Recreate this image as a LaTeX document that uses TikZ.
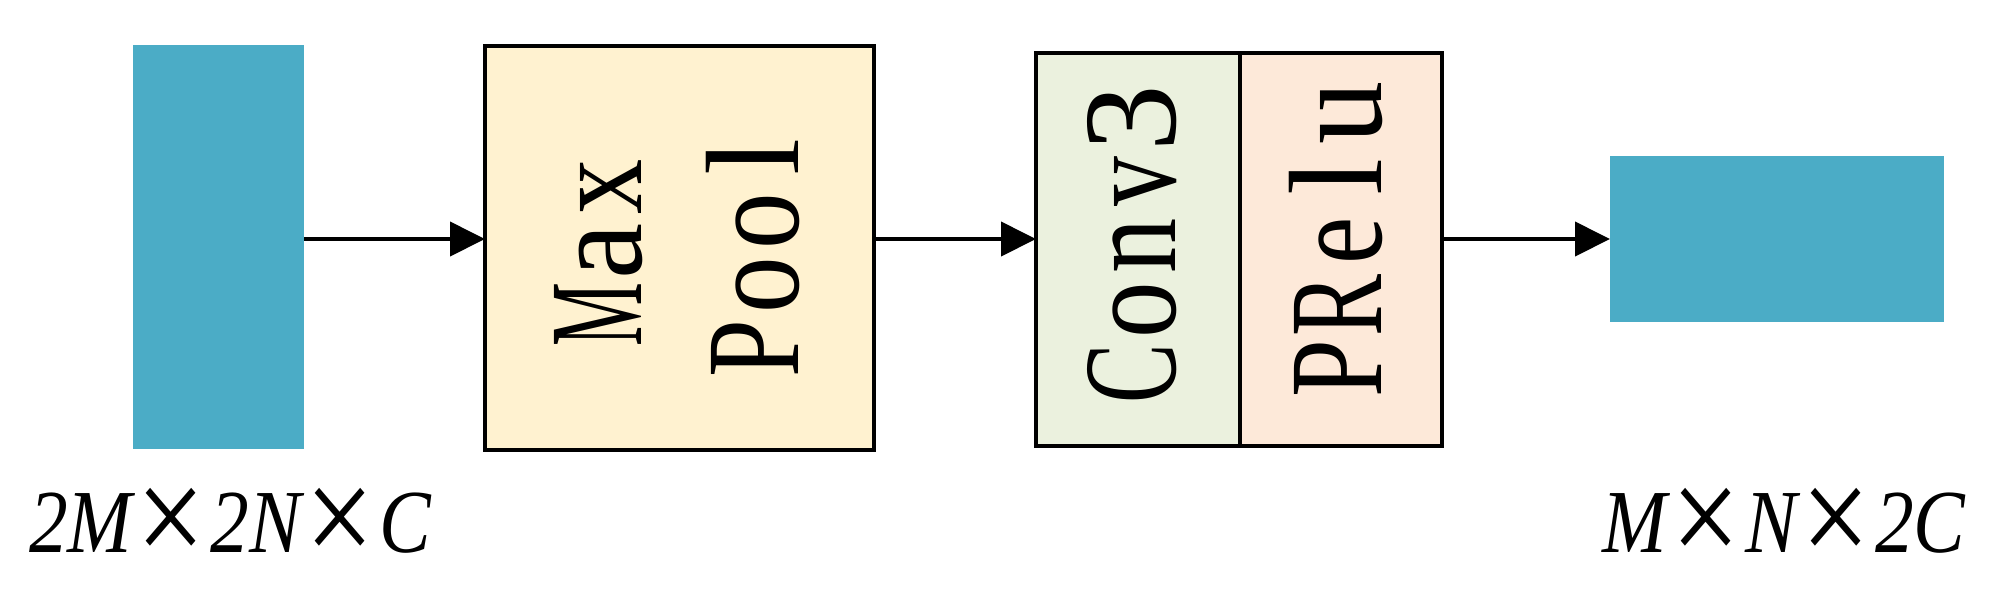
\documentclass[tikz,border=0pt]{standalone}
\usepackage{fontspec}
\setmainfont{Liberation Serif}
\usepackage{graphicx}
\usetikzlibrary{arrows.meta}
\definecolor{featblue}{HTML}{4BACC6}
\definecolor{poolfill}{HTML}{FFF2D0}
\definecolor{convfill}{HTML}{EBF1DE}
\definecolor{relufill}{HTML}{FDE9D9}
\newcommand\mc[2]{\makebox[32pt][c]{\scalebox{#1}[1]{#2}}}
\newcommand\tmul{\kern0.06em\raisebox{-0.14em}{\scalebox{1.58}{\upshape ×}}\kern0.06em}
\newcommand\dimtext[1]{\scalebox{0.86}[1]{#1}}
\begin{document}
\begin{tikzpicture}[x=0.5pt,y=-0.5pt,
  feat/.style={fill=featblue,draw=none,inner sep=0pt,outer sep=0pt},
  blk/.style={draw=black,line width=1.6pt,inner sep=0pt,outer sep=0pt},
  vtext/.style={rotate=90,inner sep=0pt,font=\fontsize{66.5pt}{70pt}\selectfont},
  dimlabel/.style={anchor=base,inner sep=0pt,font=\fontsize{45pt}{48pt}\selectfont\itshape},
  arr/.style={line width=2pt,-{Triangle[length=17.5pt,width=17pt]}}]
\useasboundingbox (0,0) rectangle (1999,601);
% feature maps
\node[feat,minimum width=85.5pt,minimum height=202pt] (inmap) at (218.5,247) {};
\node[feat,minimum width=167pt,minimum height=83pt] (outmap) at (1777,239) {};
% blocks
\node[blk,fill=poolfill,minimum width=194.5pt,minimum height=202pt] (pool) at (679.5,248) {};
\node[blk,fill=convfill,minimum width=102pt,minimum height=196.5pt] (conv) at (1138,249.5) {};
\node[blk,fill=relufill,minimum width=101pt,minimum height=196.5pt] (relu) at (1341,249.5) {};
% texts
\node[vtext] (tmax) at (599,251) {\mc{0.54}{M}\mc{0.95}{a}\mc{0.83}{x}};
\node[vtext] (tpool) at (753,253) {\mc{0.78}{P}\mc{0.85}{o}\mc{0.85}{o}\mc{1}{l}};
\node[vtext] (tconv) at (1132,246) {\mc{0.67}{C}\mc{0.85}{o}\mc{0.83}{n}\mc{0.75}{v}\mc{1}{3}};
\node[vtext] (trelu) at (1336,241) {\mc{0.78}{P}\mc{0.7}{R}\mc{0.8}{e}\mc{1}{l}\mc{0.95}{u}};
% labels
\node[dimlabel] (lin) at (230,552) {\dimtext{2M\tmul2N\tmul C}};
\node[dimlabel] (lout) at (1784,552) {\dimtext{M\tmul N\tmul 2C}};
% arrows
\draw[arr] (inmap.east |- outmap.center) -- (pool.west |- outmap.center);
\draw[arr] (pool.east |- outmap.center) -- (conv.west |- outmap.center);
\draw[arr] (relu.east |- outmap.center) -- (outmap.west);
\end{tikzpicture}
\end{document}
